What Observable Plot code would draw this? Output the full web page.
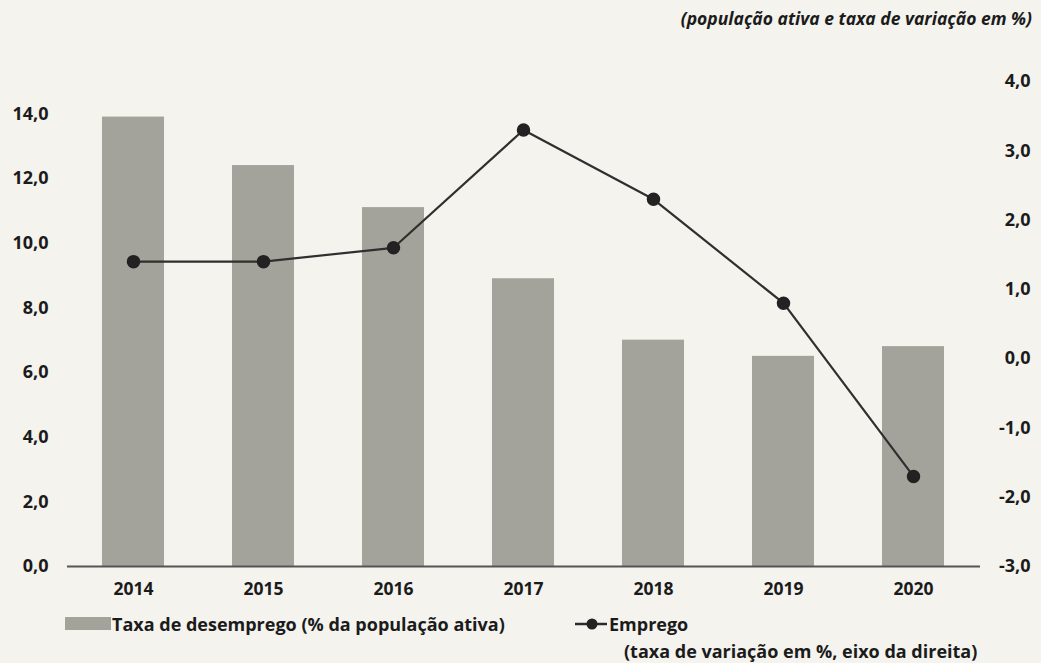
<!DOCTYPE html>
<html>
<head>
<meta charset="utf-8">
<script src="https://cdn.jsdelivr.net/npm/d3@7"></script>
<script src="https://cdn.jsdelivr.net/npm/@observablehq/plot@0.6"></script>
<style>
  html, body { margin: 0; padding: 0; background: #f4f3ee; }
  #wrap { position: relative; width: 1041px; height: 663px; font-family: "Open Sans", Lato, sans-serif; color: #1b1b1b; font-weight: bold; }
  #sub { position: absolute; right: 9px; top: 6px; font-size: 17.5px; font-style: italic; }
  #chart { position: absolute; left: 0; top: 40px; }
  .leg { position: absolute; font-size: 18px; line-height: 24px; white-space: nowrap; }
  .sw { position: absolute; }
</style>
</head>
<body>
<div id="wrap">
  <div id="sub">(população ativa e taxa de variação em %)</div>
  <div id="chart"></div>
  <div class="sw" style="left:65px; top:617px; width:46px; height:13px; background:#a4a39b;"></div>
  <div class="leg" style="left:112px; top:612px;">Taxa de desemprego (% da população ativa)</div>
  <svg class="sw" style="left:574px; top:614px;" width="34" height="20">
    <line x1="1" y1="10" x2="33" y2="10" stroke="#2b2b2b" stroke-width="2.5"></line>
    <circle cx="18" cy="10" r="5.5" fill="#222"></circle>
  </svg>
  <div class="leg" style="left:609px; top:612px;">Emprego</div>
  <div class="leg" style="left:624px; top:639px;">(taxa de variação em %, eixo da direita)</div>
</div>
<script>
const years = ["2014", "2015", "2016", "2017", "2018", "2019", "2020"];
const unemployment = [13.9, 12.4, 11.1, 8.9, 7.0, 6.5, 6.8];
const employment = [1.4, 1.4, 1.6, 3.3, 2.3, 0.8, -1.7];
const leftTicks = [0, 2, 4, 6, 8, 10, 12, 14];
const rightTicks = [-3, -2, -1, 0, 1, 2, 3, 4];

// right axis [-3, 4] mapped onto left scale [0, 15]
const toLeft = v => (v + 3) * 15 / 7;
const fromLeft = v => v * 7 / 15 - 3;
const fmt = v => v.toFixed(1).replace(".", ",");

const barData = years.map((y, i) => ({year: y, value: unemployment[i]}));
const lineData = years.map((y, i) => ({year: y, value: employment[i], yl: toLeft(employment[i])}));

const chart = Plot.plot({
  width: 1041,
  height: 570,
  marginLeft: 67,
  marginRight: 61,
  marginTop: 41,
  marginBottom: 44,
  style: {background: "transparent", fontFamily: "'Open Sans', Lato, sans-serif", fontSize: "18px", fontWeight: "bold", color: "#1b1b1b"},
  x: {domain: years, paddingInner: 0.52, paddingOuter: 0.26, axis: null},
  y: {domain: [0, 15], axis: null},
  marks: [
    Plot.barY(barData, {x: "year", y: "value", fill: "#a4a39b"}),
    Plot.ruleY([0], {stroke: "#555", strokeWidth: 2}),
    Plot.axisX({tickSize: 0, tickPadding: 16, fontSize: 17.5, label: null}),
    Plot.axisY(leftTicks, {anchor: "left", tickSize: 0, tickPadding: 19, tickFormat: fmt, label: null, fontSize: 18}),
    Plot.axisY(rightTicks.map(toLeft), {anchor: "right", tickSize: 0, textAnchor: "end", dx: 50, tickPadding: 0, tickFormat: d => fmt(fromLeft(d)), label: null, fontSize: 18}),
    Plot.line(lineData, {x: "year", y: "yl", stroke: "#2f2f2f", strokeWidth: 2.2}),
    Plot.dot(lineData, {x: "year", y: "yl", r: 6, fill: "#222", stroke: "#222"})
  ]
});
document.getElementById("chart").appendChild(chart);
</script>
</body>
</html>
